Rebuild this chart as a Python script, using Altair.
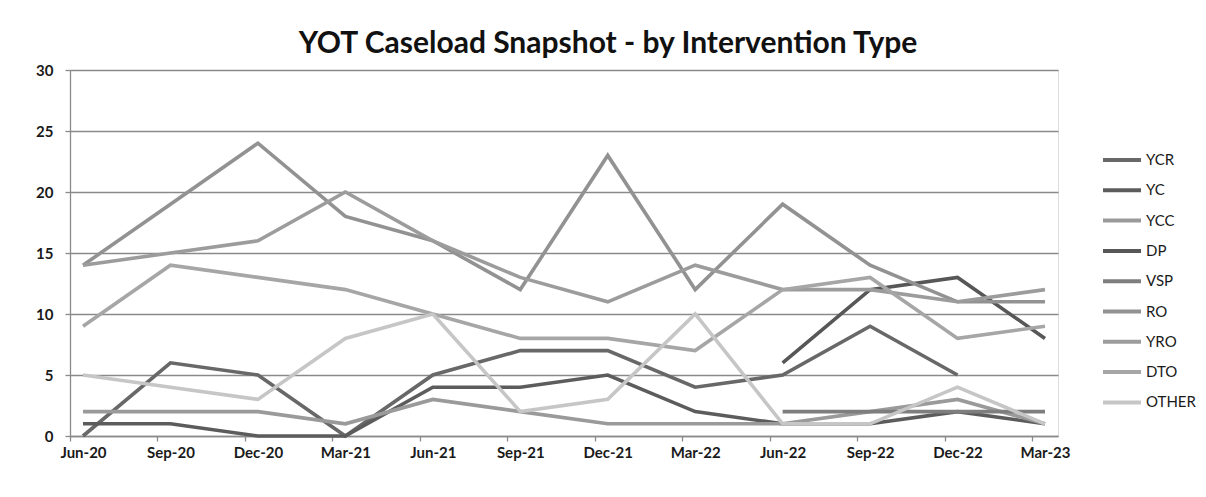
import altair as alt
import pandas as pd

months = ["Jun-20", "Sep-20", "Dec-20", "Mar-21", "Jun-21", "Sep-21",
          "Dec-21", "Mar-22", "Jun-22", "Sep-22", "Dec-22", "Mar-23"]

series_names = ["YCR", "YC", "YCC", "DP", "VSP", "RO", "YRO", "DTO", "OTHER"]
series_colors = ["#686868", "#5c5c5c", "#9a9a9a", "#575757", "#7e7e7e",
                 "#929292", "#9c9c9c", "#a6a6a6", "#c6c6c6"]

ycr = [0, 6, 5, 0, 5, 7, 7, 4, 5, 9, 5, None]
yc = [1, 1, 0, 0, 4, 4, 5, 2, 1, 1, 2, 1]
ycc = [2, 2, 2, 1, 3, 2, 1, 1, 1, 2, 3, 1]
dp = [None, None, None, None, None, None, None, None, 6, 12, 13, 8]
vsp = [None, None, None, None, None, None, None, None, 2, 2, 2, 2]
ro = [14, 19, 24, 18, 16, 12, 23, 12, 19, 14, 11, 11]
yro = [14, 15, 16, 20, 16, 13, 11, 14, 12, 12, 11, 12]
dto = [9, 14, 13, 12, 10, 8, 8, 7, 12, 13, 8, 9]
other = [5, 4, 3, 8, 10, 2, 3, 10, 1, 1, 4, 1]

series_values = [ycr, yc, ycc, dp, vsp, ro, yro, dto, other]

rows = []
for order, (name, vals) in enumerate(zip(series_names, series_values)):
    for i, v in enumerate(vals):
        if v is not None:
            rows.append({"Type": name, "idx": i, "Month": months[i],
                         "Count": v, "order": order})
df = pd.DataFrame(rows)

pad = 0.1487
label_expr = "[" + ",".join("'%s'" % m for m in months) + "][round(datum.value)]"

FONT = "Lato"

chart = alt.Chart(df).mark_line(strokeWidth=3.6, strokeJoin="miter").encode(
    x=alt.X("idx:Q",
            scale=alt.Scale(domain=[-pad, len(months) - 1 + pad], nice=False, zero=False),
            axis=alt.Axis(values=list(range(len(months))), labelExpr=label_expr,
                          title=None, grid=False, tickOffset=-13, labelOffset=13,
                          tickSize=5, tickColor="#8a8a8a", domainColor="#8a8a8a",
                          domainWidth=1.3, tickWidth=1.3,
                          labelFont=FONT, labelFontSize=15, labelFontWeight="bold",
                          labelColor="#1a1a1a", labelPadding=4)),
    y=alt.Y("Count:Q",
            scale=alt.Scale(domain=[0, 30], nice=False),
            axis=alt.Axis(values=[0, 5, 10, 15, 20, 25, 30], title=None,
                          grid=True, gridColor="#8a8a8a", gridWidth=1.3,
                          tickSize=5, tickColor="#8a8a8a", domainColor="#8a8a8a",
                          domainWidth=1.3, tickWidth=1.3,
                          labelFont=FONT, labelFontSize=15, labelFontWeight="bold",
                          labelColor="#1a1a1a", labelPadding=12)),
    color=alt.Color("Type:N",
                    scale=alt.Scale(domain=series_names, range=series_colors),
                    legend=alt.Legend(title=None, orient="none", legendX=1031,
                                      legendY=75, symbolType="stroke",
                                      symbolSize=1444, symbolStrokeWidth=4,
                                      clipHeight=30, rowPadding=0.3,
                                      labelFont=FONT, labelFontSize=15,
                                      labelColor="#1a1a1a", labelOffset=3)),
    order=alt.Order("order:Q"),
    detail="Type:N",
).properties(
    width=988,
    height=366,
    title=alt.TitleParams("YOT Caseload Snapshot - by Intervention Type",
                          font=FONT, fontSize=30, fontWeight="bold",
                          color="#111111", anchor="middle", dx=44, offset=4),
    autosize=alt.AutoSizeParams(type="none"),
    padding={"left": 62, "top": 62, "right": 140, "bottom": 50},
).configure_view(stroke=None).configure(background="white")

chart.save("out.html", embed_options={"renderer": "svg", "actions": False})
